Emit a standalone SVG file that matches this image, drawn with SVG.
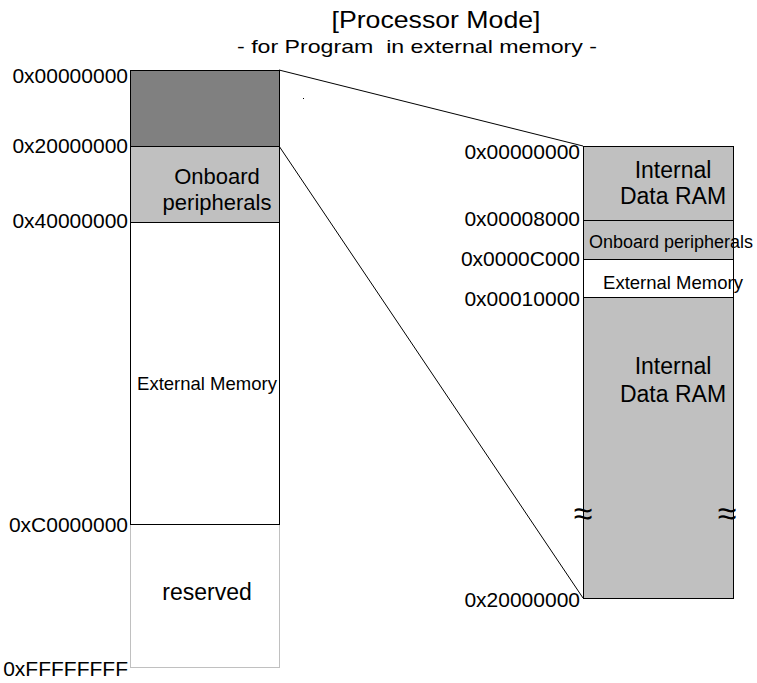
<svg xmlns="http://www.w3.org/2000/svg" width="757" height="683" viewBox="0 0 757 683">
<style>
text{font-family:"Liberation Sans",Arial,sans-serif;fill:#000}
.addr{font-size:21px;text-anchor:end}
.lbl{font-size:22px;text-anchor:middle}
.big{font-size:23px;text-anchor:middle}
.sm{font-size:18.5px;text-anchor:middle}
.brk{font-size:34px;text-anchor:middle}
.blk{stroke:#000;stroke-width:1}
</style>
<rect width="757" height="683" fill="#fff"/>
<g id="title">
<text x="436" y="28" font-size="24" text-anchor="middle" textLength="209" lengthAdjust="spacingAndGlyphs">[Processor Mode]</text>
<text x="417" y="53" font-size="19" text-anchor="middle" style="white-space:pre" textLength="360" lengthAdjust="spacingAndGlyphs">- for Program  in external memory -</text>
</g>
<g id="connectors" stroke="#000" stroke-width="1" fill="none">
<line x1="279" y1="70" x2="583" y2="146"/>
<line x1="279" y1="146" x2="583" y2="598"/>
</g>
<rect x="303" y="98" width="1" height="1" fill="#000"/>
<g id="left-map">
<g id="l-top"><rect class="blk" x="130.5" y="70.5" width="149" height="76" fill="#808080"/></g>
<g id="l-periph"><rect class="blk" x="130.5" y="146.5" width="149" height="76" fill="#c0c0c0"/>
<text class="lbl" x="217" y="184">Onboard</text><text class="lbl" x="217" y="210">peripherals</text></g>
<g id="l-ext"><rect class="blk" x="130.5" y="222.5" width="149" height="302" fill="#fff"/>
<text class="sm" x="207" y="390">External Memory</text></g>
<g id="l-res"><rect x="130.5" y="524.5" width="149" height="143" fill="#fff" stroke="#c0c0c0"/>
<text class="big" x="207" y="600">reserved</text></g>
<line x1="130" y1="524.5" x2="280" y2="524.5" stroke="#000"/>
</g>
<g id="left-addr">
<text class="addr" x="128" y="83">0x00000000</text>
<text class="addr" x="128" y="153">0x20000000</text>
<text class="addr" x="128" y="228">0x40000000</text>
<text class="addr" x="128" y="532">0xC0000000</text>
<text class="addr" x="128" y="676">0xFFFFFFFF</text>
</g>
<g id="right-map">
<g id="r-ram1"><rect class="blk" x="583.5" y="146.5" width="150" height="74" fill="#c0c0c0"/>
<text class="big" x="673" y="178">Internal</text><text class="big" x="673" y="204">Data RAM</text></g>
<g id="r-periph"><rect class="blk" x="583.5" y="220.5" width="150" height="39" fill="#c0c0c0"/>
<text font-size="18" text-anchor="middle" x="671" y="248">Onboard peripherals</text></g>
<g id="r-ext"><rect class="blk" x="583.5" y="259.5" width="150" height="38" fill="#fff"/>
<text class="sm" x="673" y="289">External Memory</text></g>
<g id="r-ram2"><rect class="blk" x="583.5" y="297.5" width="150" height="301" fill="#c0c0c0"/>
<text class="big" x="673" y="374">Internal</text><text class="big" x="673" y="402">Data RAM</text></g>
<text class="brk" x="583" y="525">≈</text>
<text class="brk" x="727" y="525">≈</text>
</g>
<g id="right-addr">
<text class="addr" x="580" y="159">0x00000000</text>
<text class="addr" x="580" y="226">0x00008000</text>
<text class="addr" x="580" y="266">0x0000C000</text>
<text class="addr" x="580" y="306">0x00010000</text>
<text class="addr" x="580" y="607">0x20000000</text>
</g>
</svg>
